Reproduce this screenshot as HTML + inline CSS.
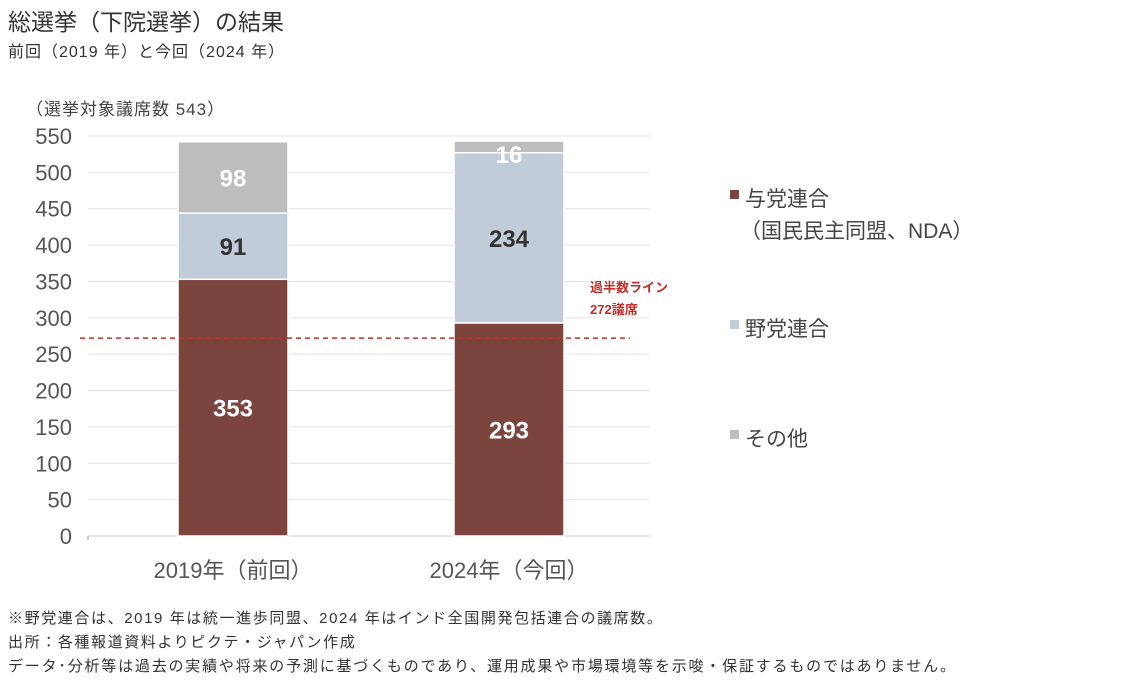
<!DOCTYPE html>
<html><head><meta charset="utf-8"><style>
body{margin:0;background:#fff;width:1135px;height:683px;overflow:hidden;font-family:"Liberation Sans","Noto Sans CJK JP",sans-serif;color:#333}
.t{position:absolute;white-space:nowrap}
.fn{font-size:15px;letter-spacing:1.6px;color:#333}
</style></head><body>
<div class="t" style="left:8px;top:3px;font-size:23px;color:#333">総選挙（下院選挙）の結果</div>
<div class="t" style="left:8px;top:38px;font-size:16px;letter-spacing:1px;color:#333">前回（2019 年）と今回（2024 年）</div>
<div class="t" style="left:26px;top:95px;font-size:17px;letter-spacing:1px;color:#444">（選挙対象議席数 543）</div>
<svg id="chart" width="1135" height="683" style="position:absolute;left:0;top:0"></svg>
<div class="t fn" style="left:8px;top:607px">※野党連合は、2019 年は統一進歩同盟、2024 年はインド全国開発包括連合の議席数。</div>
<div class="t fn" style="left:8px;top:631px">出所：各種報道資料よりピクテ・ジャパン作成</div>
<div class="t fn" style="left:8px;top:655px;letter-spacing:1.8px">データ･分析等は過去の実績や将来の予測に基づくものであり、運用成果や市場環境等を示唆・保証するものではありません。</div>
<script>
const categories=["2019年（前回）","2024年（今回）"];
const ruling=[353,293];
const opposition=[91,234];
const others=[98,16];
const yTicks=[0,50,100,150,200,250,300,350,400,450,500,550];
const majority=272;
const seriesNames=["与党連合","野党連合","その他"];
const NS="http://www.w3.org/2000/svg";
const svg=document.getElementById('chart');
const y0=536,y1=136,x0=88,x1=650;
const y=v=>y0-(v/550)*(y0-y1);
const catCenters=[233,509];
const x=i=>catCenters[0]+i*(catCenters[1]-catCenters[0]);
const bw=110;
function mk(tag,a,p){const e=document.createElementNS(NS,tag);for(const k in a)e.setAttribute(k,a[k]);(p||svg).appendChild(e);return e;}
yTicks.forEach(v=>{
  const g=mk('line',{x1:x0,x2:x1,y1:y(v),y2:y(v),stroke:v===0?'#ccc':'#e4e4e4','stroke-width':1});
  
  
  const t=mk('text',{x:72,y:y(v)+8,'text-anchor':'end','font-size':22,fill:'#555'});
  t.textContent=v;
  
  
});
mk('line',{x1:x0,x2:x0,y1:y(0),y2:y(0)+4,stroke:'#999'});
const colors=['#7b443c','#c2ccd8','#bdbdbd'];
const labelColors=['#fff','#333','#fff'];
const series=[ruling,opposition,others];
categories.forEach((c,i)=>{
  let base=0;
  series.forEach((s,k)=>{
    const v=s[i];
    const r=mk('rect',{x:x(i)-bw/2,y:y(base+v),width:bw,height:y(base)-y(base+v),fill:colors[k],stroke:'#fff','stroke-width':1.5});
    
    
    let ly=(y(base)+y(base+v))/2+9;
    if(y(base)-y(base+v)<24) ly=y(base+v)+22;
    const t=mk('text',{x:x(i),y:ly,'text-anchor':'middle','font-size':24,'font-weight':'bold',fill:labelColors[k]});
    t.textContent=v;
    
    
    base+=v;
  });
  const l=mk('text',{x:x(i),y:578,'text-anchor':'middle','font-size':22,fill:'#555'});
  l.textContent=c;
  
  
});
const ml=mk('line',{x1:80,x2:630,y1:y(majority),y2:y(majority),stroke:'#c0302a','stroke-width':1.5,'stroke-dasharray':'5,4'});


const a1=mk('text',{x:590,y:292,'font-size':13,'font-weight':'bold',fill:'#c0302a'});a1.textContent='過半数ライン';


const a2=mk('text',{x:590,y:314,'font-size':13,'font-weight':'bold',fill:'#c0302a'});a2.textContent=majority+'議席';


const legY=[200,330,440];
seriesNames.forEach((n,k)=>{
  const r=mk('rect',{x:730,y:legY[k]-10,width:9,height:9,fill:colors[k]});
  
  
  const t=mk('text',{x:745,y:legY[k]+6,'font-size':21,fill:'#444'});t.textContent=n;
  
  
});
const t2=mk('text',{x:740,y:238,'font-size':21,fill:'#444'});t2.textContent='（国民民主同盟、NDA）';


</script>
</body></html>
